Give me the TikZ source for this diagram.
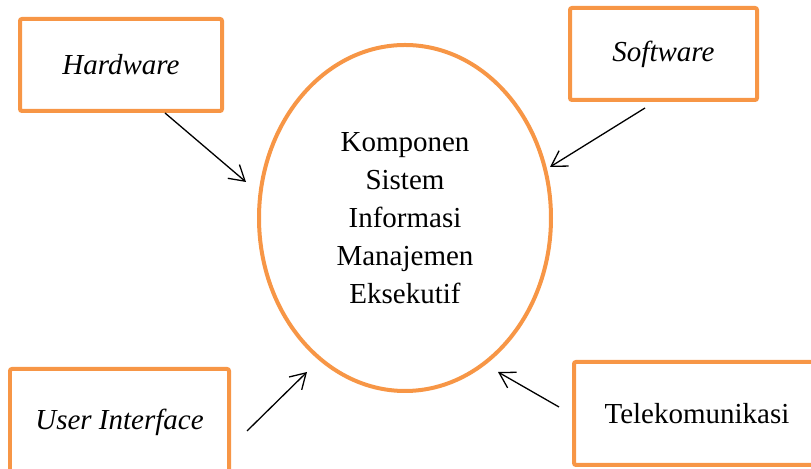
\documentclass[tikz,border=0pt]{standalone}
\usepackage{fontspec}
\setmainfont{Liberation Serif}
\usepackage{tikz}
\usetikzlibrary{arrows.meta, shapes.geometric, positioning}
\definecolor{oranj}{RGB}{247, 150, 70}
\tikzset{
    boxnode/.style = {draw=oranj, rectangle, line width=2pt, rounded corners=1pt, inner sep = 0em, 
      font=\fontsize{14.5}{19}\selectfont},
    ellipsenode/.style = {draw=oranj, ellipse, line width=2pt, inner sep = 0em, align=center, 
      minimum width=146pt, minimum height=173pt, font=\fontsize{14.5}{19}\selectfont},
    connect/.style = {black, line width=0.65pt, -{Straight Barb[length=7.5pt, width=9pt]}}
}

\begin{document}
\begin{tikzpicture}[x=0.5pt, y=-0.5pt]
\useasboundingbox (0,0) rectangle (811,469);

\node[ellipsenode, name=eis] at (405,218) {Komponen\\Sistem\\Informasi\\Manajemen\\Eksekutif};

\node[boxnode, name=hw, minimum width=101pt, minimum height=46pt] at (121,65) {\textit{Hardware}};
\node[boxnode, name=sw, minimum width=93.5pt, minimum height=46pt] at (663.5,54) {\textit{Software}};
\node[boxnode, name=ui, minimum width=109.5pt, minimum height=53pt] at (119.5,422) {\textit{User Interface}};
\node[boxnode, name=tk, minimum width=123pt, minimum height=51.5pt] at (697,413.5) {Telekomunikasi};

% ujung panah
\coordinate (hwtail) at ([xshift=22pt]hw.south);
\coordinate (hwtip) at (246,182);
\coordinate (swtail) at (645,108);
\coordinate (swtip) at (550,167);
\coordinate (uitail) at (247,431);
\coordinate (uitip) at (307,372);
\coordinate (tktail) at (559,407);
\coordinate (tktip) at (498,372);

\draw[connect] (hwtail) -- (hwtip);
\draw[connect] (swtail) -- (swtip);
\draw[connect] (uitail) -- (uitip);
\draw[connect] (tktail) -- (tktip);
\end{tikzpicture}
\end{document}
